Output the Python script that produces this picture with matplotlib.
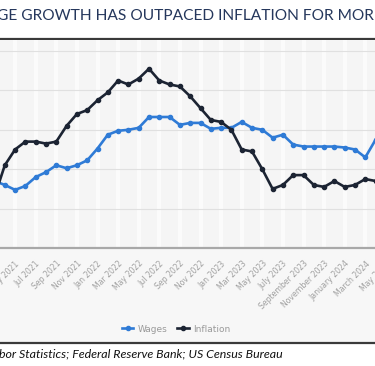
import matplotlib
matplotlib.use("Agg")
import matplotlib.pyplot as plt
from matplotlib.lines import Line2D
from matplotlib.patches import Rectangle
import numpy as np

# ---- data (monthly, Mar 2021 .. Apr 2024) ----
wages = [3.4, 3.2, 2.95, 3.15, 3.6, 3.85, 4.2, 4.05, 4.2, 4.45,
         5.05, 5.75, 5.95, 6.0, 6.1, 6.65, 6.65, 6.65, 6.25, 6.35,
         6.35, 6.05, 6.1, 6.1, 6.4, 6.1, 6.0, 5.6, 5.75, 5.25,
         5.15, 5.15, 5.15, 5.15, 5.1, 5.0, 4.6, 5.5]
inflation = [2.6, 4.2, 5.0, 5.4, 5.4, 5.3, 5.4, 6.2, 6.8, 7.0,
             7.5, 7.9, 8.5, 8.3, 8.6, 9.1, 8.5, 8.3, 8.2, 7.7,
             7.1, 6.5, 6.4, 6.0, 5.0, 4.9, 4.0, 3.0, 3.2, 3.7,
             3.7, 3.2, 3.1, 3.4, 3.1, 3.2, 3.5, 3.4]
tick_labels = ['Mar 2021', 'May 2021', 'Jul 2021', 'Sep 2021', 'Nov 2021',
               'Jan 2022', 'Mar 2022', 'May 2022', 'Jul 2022', 'Sep 2022',
               'Nov 2022', 'Jan 2023', 'Mar 2023', 'May 2023', 'July 2023',
               'September 2023', 'November 2023', 'January 2024', 'March 2024',
               'May 2024']
y_ticks = [0, 2, 4, 6, 8, 10]
title_text = "GE GROWTH HAS OUTPACED INFLATION FOR MOR"
source_text = "bor Statistics; Federal Reserve Bank; US Census Bureau"

W, H = 375, 366
fig = plt.figure(figsize=(W / 100, H / 100), dpi=100)
fig.patch.set_facecolor('white')

def fx(px):
    return px / W

def fy(py):
    return 1 - py / H

# panel background between the two dark rules
bg = Rectangle((0, fy(342)), 1, fy(40) - fy(342),
               transform=fig.transFigure, facecolor='#f7f7f7',
               edgecolor='none', zorder=-5)
fig.patches.append(bg)
fig.add_artist(Line2D([0, 1], [fy(38.5), fy(38.5)], color='#3a3a3a', lw=1.6))
fig.add_artist(Line2D([0, 1], [fy(342.5), fy(342.5)], color='#3a3a3a', lw=1.6))

# axes placement (extends past the cropped edges)
x = np.arange(len(wages))
step = 10.3
x0px = -5.5
xlim = (-3.5, 40.5)
left_px = x0px + xlim[0] * step
right_px = x0px + xlim[1] * step
top_px, bot_px = 40, 248
ax = fig.add_axes([fx(left_px), fy(bot_px), (right_px - left_px) / W,
                   (bot_px - top_px) / H])
ax.set_zorder(2)
ax.set_xlim(*xlim)
ax.set_ylim(0, (bot_px - top_px) / 19.7)
ax.set_facecolor('#f5f5f5')

ax.plot(x, wages, color='#2f7bd6', lw=1.9, marker='o', ms=3, zorder=3)
ax.plot(x, inflation, color='#1c2433', lw=1.9, marker='o', ms=3, zorder=3)

ax.set_yticks(y_ticks)
ax.set_yticklabels([])
ax.tick_params(axis='y', length=0)
ax.set_xticks(np.arange(0, 2 * len(tick_labels), 2))
ax.set_xticklabels(tick_labels, rotation=45, ha='right', va='top',
                   rotation_mode='anchor', fontsize=5.6, color='#a0a0a0')
ax.tick_params(axis='x', length=0, pad=8)
ax.grid(axis='y', color='#e0e0e0', lw=0.8)
ax.grid(axis='x', color='#fbfbfb', lw=3.0)
ax.set_axisbelow(True)
for s in ['top', 'left', 'right']:
    ax.spines[s].set_visible(False)
ax.spines['bottom'].set_color('#a8a8a8')
ax.spines['bottom'].set_linewidth(1.6)

# legend
handles = [Line2D([], [], color='#2f7bd6', lw=1.9, marker='o', ms=3),
           Line2D([], [], color='#1c2433', lw=1.9, marker='o', ms=3)]
fig.legend(handles, ['Wages', 'Inflation'], loc='center',
           bbox_to_anchor=(fx(176), fy(329)), ncol=2, frameon=False,
           fontsize=6.5, labelcolor='#9a9a9a', handlelength=1.3,
           handletextpad=0.5, columnspacing=1.0)

# title and source, fitted to observed widths
renderer = fig.canvas.get_renderer()

def fitted(px_x, px_y, target_w, text, **kw):
    t = fig.text(fx(px_x), fy(px_y), text, ha='left', va='center', **kw)
    w = t.get_window_extent(renderer).width
    t.set_fontsize(t.get_fontsize() * target_w / w)
    return t

fitted(-3, 15.5, 376, title_text, fontsize=12, color='#25375c',
       family=['Lato', 'DejaVu Sans'])
fitted(-1, 354, 284, source_text, fontsize=9, color='#111111',
       style='italic', family=['Lato', 'DejaVu Sans'])

fig.savefig('out.png', dpi=100, facecolor=fig.get_facecolor())
